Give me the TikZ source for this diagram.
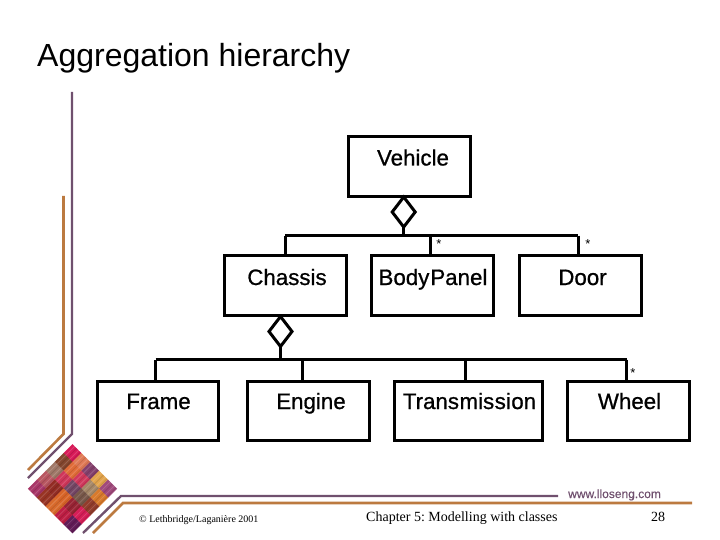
\documentclass[tikz,border=0pt]{standalone}
\usepackage{fontspec}
\setmainfont{Liberation Sans}
\newfontfamily\boxfont[FakeBold=0.8]{Liberation Sans}
\newfontfamily\urlfont[FakeBold=0.3]{Liberation Sans}
\newfontfamily\serifface{Liberation Serif}
\usetikzlibrary{shapes.geometric}
\definecolor{plum}{HTML}{70506E}
\definecolor{ochre}{HTML}{BC7A40}
\tikzset{
  classbox/.style={draw=black,line width=3pt,rectangle,inner sep=0pt,outer sep=0pt},
  boxtext/.style={anchor=base,inner sep=0pt,font=\boxfont\fontsize{22.3}{24}\selectfont,text=black},
  conn/.style={draw=black,line width=3pt},
  agg/.style={diamond,draw=black,line width=3pt,fill=white,inner sep=0pt,outer sep=0pt,minimum width=23pt,minimum height=30pt},
  mult/.style={inner sep=0pt,font=\fontsize{13}{13}\selectfont},
  footer/.style={inner sep=0pt,font=\serifface\frenchspacing\fontsize{14}{16}\selectfont},
  rulepurple/.style={draw=plum,line width=2.4pt},
  ruleorange/.style={draw=ochre,line width=2.6pt},
}
\begin{document}
\begin{tikzpicture}[x=1pt,y=-1pt]
\useasboundingbox (0,0) rectangle (720,540);
% decorative rules
\draw[rulepurple] (72,92) -- (72,434) -- (28,478);
\draw[ruleorange] (63.5,196) -- (63.5,434) -- (28,470);
\draw[rulepurple] (83,533) -- (121,496) -- (558,496);
\draw[ruleorange] (93,533) -- (123,503) -- (692,503);
% mosaic
\begin{scope}[shift={(72.5,444)},x={(8.9pt,-8.9pt)},y={(-8.9pt,-8.9pt)}]
\foreach \u/\v/\c in {
 0/0/D81A58,1/0/E07A55,2/0/84406C,3/0/E2A44C,4/0/A04A7C,
 0/1/84462E,1/1/E06C38,2/1/D0385C,3/1/A68868,4/1/D87A2C,
 0/2/A07868,1/2/D0365A,2/2/744664,3/2/78584A,4/2/923C2C,
 0/3/B85660,1/3/922C24,2/3/D86428,3/3/982434,4/3/D61E58,
 0/4/A83668,1/4/983424,2/4/D86A2C,3/4/BE1E44,4/4/621C58}{
  \definecolor{patch}{HTML}{\c}
  \fill[patch] (\u,\v) -- ++(1.02,0) -- ++(0,1.02) -- ++(-1.02,0) -- cycle;
  \draw[white,opacity=.16,line width=.8pt] (\u+.25,\v) -- ++(0,1) (\u+.7,\v) -- ++(0,1);
  \draw[black,opacity=.12,line width=.8pt] (\u+.48,\v) -- ++(0,1) (\u+.9,\v) -- ++(0,1);
}
\end{scope}
% title
\node[anchor=base west,inner sep=0pt,font=\fontsize{32}{36}\selectfont] (title) at (37,66.5) {Aggregation hierarchy};
% boxes
\node[classbox,minimum width=122pt,minimum height=60pt] (vehicle) at (409.5,166.5) {};
\node[classbox,minimum width=122pt,minimum height=60pt] (chassis) at (285.5,285.5) {};
\node[classbox,minimum width=122pt,minimum height=60pt] (panel) at (432.5,285.5) {};
\node[classbox,minimum width=122pt,minimum height=60pt] (door) at (580.5,285.5) {};
\node[classbox,minimum width=121pt,minimum height=59pt] (frame) at (158,410.5) {};
\node[classbox,minimum width=122pt,minimum height=59pt] (engine) at (308,410.5) {};
\node[classbox,minimum width=148pt,minimum height=59pt] (trans) at (468.5,410.5) {};
\node[classbox,minimum width=122pt,minimum height=59pt] (wheel) at (628.5,410.5) {};
% box labels
\node[boxtext] (tv) at (413,165.5) {Vehicle};
\node[boxtext] (tc) at (287,285) {Chassis};
\node[boxtext] (tb) at (433,285) {Body\kern1pt Panel};
\node[boxtext] (td) at (582.5,285) {Door};
\node[boxtext] (tf) at (158.5,409) {Frame};
\node[boxtext] (te) at (311,409) {Engine};
\node[boxtext] (tt) at (469.5,409) {Trans\kern.5pt mis\kern.5pt si\kern.5pt on};
\node[boxtext] (tw) at (629.5,409) {Wheel};
% aggregation 1
\coordinate (b1l) at (285,235.5);
\coordinate (b1m) at (403.7,235.5);
\coordinate (b1p) at (430.7,235.5);
\coordinate (b1r) at (578.3,235.5);
\node[agg] (d1) at (403.7,212) {};
\draw[conn] (d1.south) -- (b1m);
\draw[conn] (b1l) -- (b1r);
\draw[conn] (b1l) -- (b1l |- chassis.north);
\draw[conn] (b1p) -- (b1p |- panel.north);
\draw[conn] (b1r) -- (b1r |- door.north);
% aggregation 2
\coordinate (b2l) at (155.5,359.5);
\coordinate (b2m) at (280.5,359.5);
\coordinate (b2e) at (302,359.5);
\coordinate (b2t) at (465,359.5);
\coordinate (b2r) at (626.7,359.5);
\node[agg] (d2) at (280.5,331.5) {};
\draw[conn] (d2.south) -- (b2m);
\draw[conn] (b2l) -- (b2r);
\draw[conn] (b2l) -- (b2l |- frame.north);
\draw[conn] (b2e) -- (b2e |- engine.north);
\draw[conn] (b2t) -- (b2t |- trans.north);
\draw[conn] (b2r) -- (b2r |- wheel.north);
% multiplicities
\node[mult] (m1) at (439,244.5) {*};
\node[mult] (m2) at (588,244.5) {*};
\node[mult] (m3) at (633,373) {*};
% footer
\node[anchor=base west,inner sep=0pt,font=\serifface\fontsize{10}{12}\selectfont] (copy) at (139,522) {© Lethbridge/Laganière 2001};
\node[footer,anchor=base west] (chap) at (366,521) {Chapter 5: Modelling with classes};
\node[footer,anchor=base west] (page) at (651,521) {28};
\node[anchor=base west,inner sep=0pt,text=plum,font=\urlfont\fontsize{12}{14}\selectfont] (url) at (568,498) {www.lloseng.com};
\end{tikzpicture}
\end{document}
